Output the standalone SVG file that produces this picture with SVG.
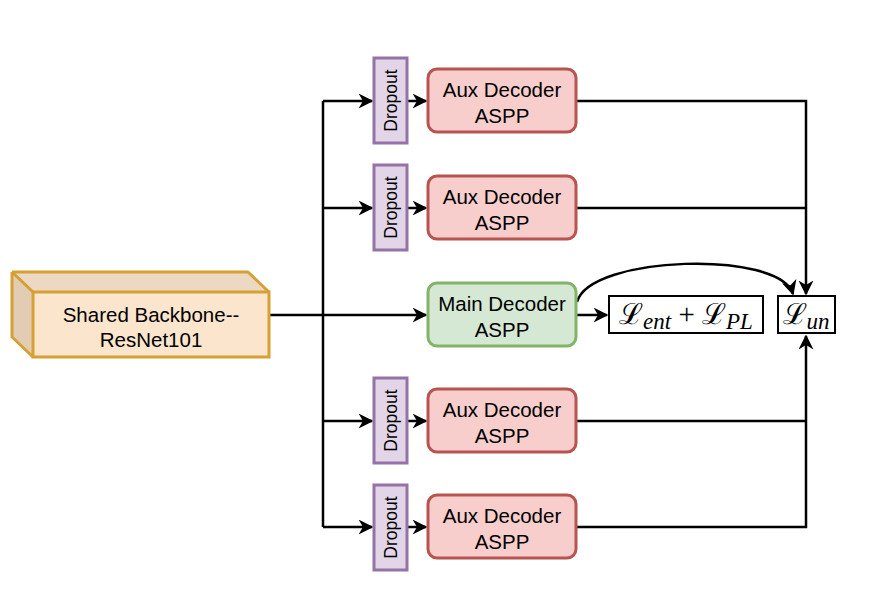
<svg xmlns="http://www.w3.org/2000/svg" width="888" height="590" viewBox="0 0 888 590">
<style>
.lbl{font-family:"Liberation Sans",Arial,sans-serif;font-size:20.5px;fill:#000;text-anchor:middle}
.drp{font-family:"Liberation Sans",Arial,sans-serif;font-size:17.5px;fill:#000;text-anchor:middle}
.aux{fill:#f8cecc;stroke:#b85450;stroke-width:3}
.main{fill:#d5e8d4;stroke:#82b366;stroke-width:3}
.dr{fill:#e1d5e7;stroke:#9673a6;stroke-width:3}
.ln{fill:none;stroke:#000;stroke-width:2.5}
.box{fill:#fff;stroke:#000;stroke-width:2}
.m{font-family:"Liberation Serif","DejaVu Serif",serif;font-size:29px;fill:#000}
.s{font-family:"Liberation Serif","DejaVu Serif",serif;font-style:italic;font-size:23px}
</style>
<defs>
<marker id="a" viewBox="0 0 10 10" refX="9" refY="5" markerWidth="6" markerHeight="6" orient="auto" markerUnits="strokeWidth">
<path d="M0,0 L10,5 L0,10 L3,5 Z" fill="#000"/>
</marker>
</defs>
<rect width="888" height="590" fill="#fff"/>
<g id="connectors">
<path class="ln" d="M269,315 H426" marker-end="url(#a)"/>
<path class="ln" d="M323,101 V527"/>
<path class="ln" d="M323,101 H372" marker-end="url(#a)"/>
<path class="ln" d="M323,208 H372" marker-end="url(#a)"/>
<path class="ln" d="M323,421 H372" marker-end="url(#a)"/>
<path class="ln" d="M323,527 H372" marker-end="url(#a)"/>
<path class="ln" d="M408,101 H426" marker-end="url(#a)"/>
<path class="ln" d="M408,208 H426" marker-end="url(#a)"/>
<path class="ln" d="M408,421 H426" marker-end="url(#a)"/>
<path class="ln" d="M408,527 H426" marker-end="url(#a)"/>
<path class="ln" d="M576,101 H806 V294" marker-end="url(#a)"/>
<path class="ln" d="M576,208 H806"/>
<path class="ln" d="M576,527 H806 V336" marker-end="url(#a)"/>
<path class="ln" d="M576,421 H806"/>
<path class="ln" d="M576,315 H607" marker-end="url(#a)"/>
<path class="ln" d="M577,302 C590,255 780,250 793,294" marker-end="url(#a)"/>
</g>
<g id="backbone">
<path d="M12,272 L248,272 L269,292 L269,357 L33,357 L12,337 Z" fill="#fae5cc" stroke="none"/>
<path d="M12,272 L248,272 L269,292 L33,292 Z" fill="#ecd9c4"/>
<path d="M12,272 L33,292 L33,357 L12,337 Z" fill="#e2ccb4"/>
<rect x="33" y="292" width="236" height="65" fill="#fbe6cd" stroke="#d6a032" stroke-width="3"/>
<path d="M12,272 L248,272 L269,292 M12,272 L33,292 M12,272 L12,337 L33,357" fill="none" stroke="#d6a032" stroke-width="3" stroke-linejoin="round"/>
<text class="lbl" x="151" y="322">Shared Backbone--</text>
<text class="lbl" x="151" y="347">ResNet101</text>
</g>
<g id="dropout1"><rect class="dr" x="374" y="58" width="33" height="85"/><text class="drp" transform="translate(397,100.5) rotate(-90)">Dropout</text></g>
<g id="dropout2"><rect class="dr" x="374" y="165" width="33" height="85"/><text class="drp" transform="translate(397,207.5) rotate(-90)">Dropout</text></g>
<g id="dropout3"><rect class="dr" x="374" y="378" width="33" height="85"/><text class="drp" transform="translate(397,420.5) rotate(-90)">Dropout</text></g>
<g id="dropout4"><rect class="dr" x="374" y="485" width="33" height="85"/><text class="drp" transform="translate(397,527.5) rotate(-90)">Dropout</text></g>
<g id="aux1"><rect class="aux" x="428" y="69" width="148" height="63" rx="9"/><text class="lbl" x="502" y="97">Aux Decoder</text><text class="lbl" x="502" y="123">ASPP</text></g>
<g id="aux2"><rect class="aux" x="428" y="176" width="148" height="63" rx="9"/><text class="lbl" x="502" y="204">Aux Decoder</text><text class="lbl" x="502" y="230">ASPP</text></g>
<g id="main"><rect class="main" x="428" y="283" width="148" height="63" rx="9"/><text class="lbl" x="502" y="311">Main Decoder</text><text class="lbl" x="502" y="337">ASPP</text></g>
<g id="aux3"><rect class="aux" x="428" y="389" width="148" height="63" rx="9"/><text class="lbl" x="502" y="417">Aux Decoder</text><text class="lbl" x="502" y="443">ASPP</text></g>
<g id="aux4"><rect class="aux" x="428" y="495" width="148" height="63" rx="9"/><text class="lbl" x="502" y="523">Aux Decoder</text><text class="lbl" x="502" y="549">ASPP</text></g>
<g id="loss1"><rect class="box" x="609" y="296" width="154" height="37"/><text class="m" x="686" y="324" text-anchor="middle">ℒ<tspan class="s" dy="5">ent</tspan><tspan dy="-5"> + ℒ</tspan><tspan class="s" dy="5">PL</tspan></text></g>
<g id="loss2"><rect class="box" x="778" y="296" width="57" height="37"/><text class="m" x="806" y="324" text-anchor="middle">ℒ<tspan class="s" dy="5">un</tspan></text></g>
</svg>
